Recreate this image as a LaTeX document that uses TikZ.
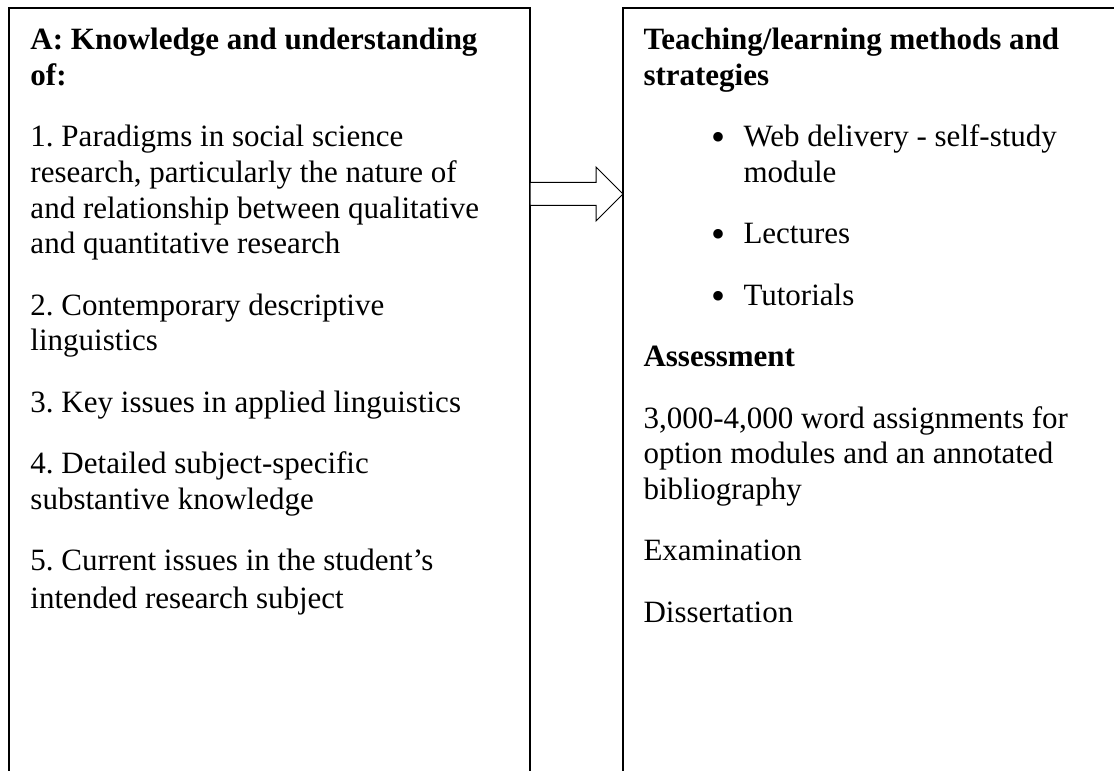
\documentclass[tikz,border=0pt]{standalone}
\usepackage{fontspec}
\setmainfont{Liberation Serif}
\usetikzlibrary{shapes.arrows}
\frenchspacing

\tikzset{
    panel/.style = {
        draw,
        line width=0.6pt,
        inner sep=0pt,
        outer sep=0pt,
        anchor=north west
    },
    para/.style = {
        anchor=base west,
        align=left,
        inner sep=0pt,
        font=\fontsize{12.4}{14.24}\selectfont
    },
    head/.style = {
        para,
        font=\fontsize{12.4}{14.24}\selectfont\bfseries
    },
    dot/.style = {
        para,
        font=\fontsize{16}{16}\selectfont
    },
    flow/.style = {
        draw,
        fill=white,
        single arrow,
        line width=0.4pt,
        inner xsep=0pt,
        inner ysep=4.4pt,
        outer sep=0pt,
        minimum height=37.2pt,
        single arrow head extend=6.2pt,
        anchor=tail
    }
}

\begin{document}
\begin{tikzpicture}[x=0.4pt, y=-0.4pt]
    \useasboundingbox (0,0) rectangle (1114,771);
    \clip (0,0) rectangle (1114,771);

    % Draw both panels (they run off the page)
    \node[panel, minimum width=208.4pt, minimum height=328pt] (know) at (9,8) {};
    \node[panel, minimum width=224pt, minimum height=328pt] (teach) at (623,8) {};

    % Draw arrow
    \node[flow] (link) at (530,194) {};

    % Left panel text (placed at the baseline of the last line)
    \node[head] (khead) at (30,85.6) {A: Knowledge and understanding\\of:};
    \node[para] (k1) at (30,253.8) {1. Paradigms in social science\\research, particularly the nature of\\and relationship between qualitative\\and quantitative research};
    \node[para] (k2) at (30,350.8) {2. Contemporary descriptive\\linguistics};
    \node[para] (k3) at (30,412.2) {3. Key issues in applied linguistics};
    \node[para] (k4) at (30,509.2) {4. Detailed subject-specific\\substantive knowledge};
    \node[para] (k5) at (30,609) {5. Current issues in the student’s\\[1.2pt]intended research subject};

    % Right panel text
    \node[head] (thead) at (643,85.6) {Teaching/learning methods and\\strategies};
    \node[dot] (dot1) at (711,151) {\textbullet};
    \node[para] (t1) at (743,182.6) {Web delivery - self-study\\module};
    \node[dot] (dot2) at (711,248) {\textbullet};
    \node[para] (t2) at (743,244) {Lectures};
    \node[dot] (dot3) at (711,309.4) {\textbullet};
    \node[para] (t3) at (743,305.4) {Tutorials};
    \node[head] (ahead) at (643,366.8) {Assessment};
    \node[para] (a1) at (643,499.4) {3,000-4,000 word assignments for\\option modules and an annotated\\bibliography};
    \node[para] (a2) at (643,560.8) {Examination};
    \node[para] (a3) at (643,622.2) {Dissertation};
\end{tikzpicture}
\end{document}
